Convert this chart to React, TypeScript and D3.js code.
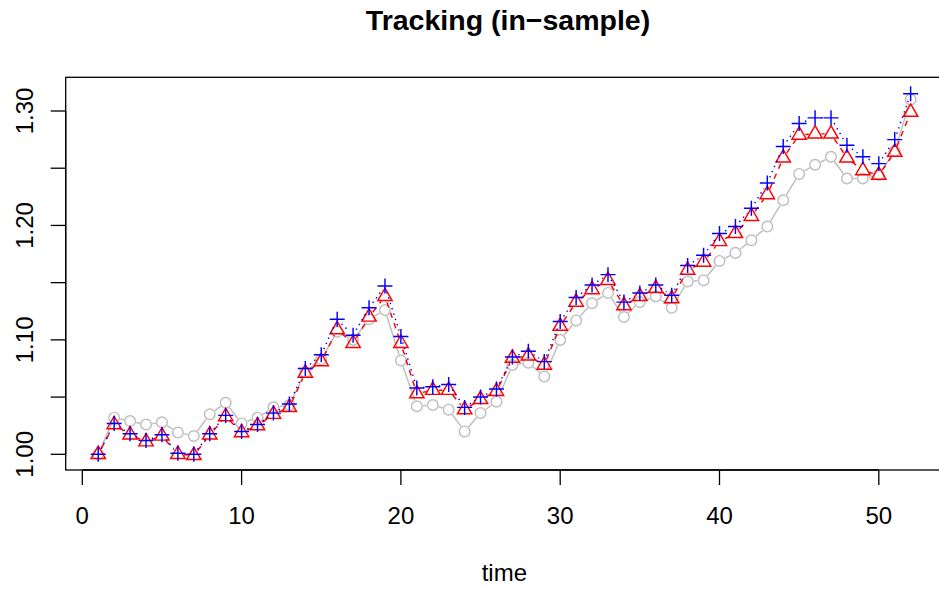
import React from "react";
import * as d3 from "d3";

const W = 939;
const H = 589;

const title = "Tracking (in\u2212sample)";
const xLabel = "time";

const xTicks = [0, 10, 20, 30, 40, 50];
const yTickMarks = [1.0, 1.05, 1.1, 1.15, 1.2, 1.25, 1.3];
const yTickLabels = ["1.00", "1.10", "1.20", "1.30"];
const yTickLabelValues = [1.0, 1.1, 1.2, 1.3];

// benchmark (grey circles, solid)
const indexSeries = [
  1.000, 1.032, 1.029, 1.026, 1.028, 1.019, 1.016, 1.035, 1.045, 1.027,
  1.032, 1.041, 1.043, 1.072, 1.083, 1.107, 1.100, 1.118, 1.126, 1.082,
  1.042, 1.043, 1.039, 1.020, 1.036, 1.046, 1.078, 1.080, 1.068, 1.100,
  1.117, 1.132, 1.141, 1.120, 1.133, 1.138, 1.128, 1.151, 1.152, 1.169,
  1.176, 1.187, 1.199, 1.222, 1.245, 1.253, 1.260, 1.241, 1.241, 1.244,
  1.265, 1.310,
];

// red triangles, dashed
const redSeries = [
  1.000, 1.026, 1.017, 1.011, 1.016, 1.000, 0.999, 1.017, 1.033, 1.019,
  1.025, 1.035, 1.041, 1.071, 1.081, 1.109, 1.097, 1.120, 1.138, 1.097,
  1.053, 1.056, 1.056, 1.039, 1.048, 1.055, 1.084, 1.086, 1.078, 1.112,
  1.133, 1.144, 1.152, 1.130, 1.138, 1.145, 1.136, 1.161, 1.168, 1.186,
  1.193, 1.208, 1.227, 1.259, 1.279, 1.280, 1.280, 1.259, 1.248, 1.244,
  1.264, 1.299,
];

// blue plus, dotted
const blueSeries = [
  1.000, 1.027, 1.018, 1.012, 1.017, 1.001, 1.000, 1.018, 1.034, 1.020,
  1.026, 1.036, 1.044, 1.075, 1.087, 1.118, 1.104, 1.128, 1.147, 1.103,
  1.058, 1.059, 1.061, 1.041, 1.050, 1.057, 1.085, 1.090, 1.081, 1.116,
  1.137, 1.148, 1.157, 1.133, 1.141, 1.148, 1.139, 1.165, 1.174, 1.193,
  1.199, 1.215, 1.237, 1.269, 1.289, 1.294, 1.294, 1.270, 1.260, 1.254,
  1.275, 1.315,
];

const box = { left: 65.7, top: 77.3, right: 943, bottom: 470 };

const x = d3.scaleLinear().domain([0, 50]).range([82.3, 878.8]);
const y = d3.scaleLinear().domain([1.0, 1.3]).range([454.3, 111]);

const FONT = "'Liberation Sans', Arial, Helvetica, sans-serif";

type Pt = [number, number];

function gappedSegments(pts: Pt[], gap: number): string {
  let d = "";
  for (let i = 0; i < pts.length - 1; i++) {
    const [x0, y0] = pts[i];
    const [x1, y1] = pts[i + 1];
    const dx = x1 - x0;
    const dy = y1 - y0;
    const len = Math.sqrt(dx * dx + dy * dy);
    if (len <= 2 * gap) continue;
    const ux = dx / len;
    const uy = dy / len;
    d += `M${x0 + ux * gap},${y0 + uy * gap}L${x1 - ux * gap},${y1 - uy * gap}`;
  }
  return d;
}

const toPts = (vals: number[]): Pt[] => vals.map((v, i) => [x(i + 1), y(v)]);

const R_CIRCLE = 5.3;
const TRC0 = 8.3;
const TRC1 = TRC0 * Math.sqrt(3) / 2;
const TRC2 = TRC0 / 2;
const PLUS = 7.5;
const GAP = 6.2;
const LW = 1.45;

export default function App() {
  const gPts = toPts(indexSeries);
  const rPts = toPts(redSeries);
  const bPts = toPts(blueSeries);

  return (
    <svg
      width={W}
      height={H}
      style={{ position: "fixed", left: 0, top: 0, background: "#fff" }}
      fontFamily={FONT}
    >
      <rect x={0} y={0} width={W} height={H} fill="#fff" />
      <defs>
        <clipPath id="plotclip">
          <rect x={box.left} y={box.top} width={box.right - box.left} height={box.bottom - box.top} />
        </clipPath>
      </defs>

      <g clipPath="url(#plotclip)">
        {/* grey series */}
        <path d={gappedSegments(gPts, GAP)} fill="none" stroke="#BEBEBE" strokeWidth={LW} />
        {gPts.map(([px, py], i) => (
          <circle key={"g" + i} cx={px} cy={py} r={R_CIRCLE} fill="none" stroke="#BEBEBE" strokeWidth={LW} />
        ))}

        {/* red series */}
        <path d={gappedSegments(rPts, GAP)} fill="none" stroke="#FF0000" strokeWidth={LW} strokeDasharray="5.5,5.5" />
        {rPts.map(([px, py], i) => (
          <path
            key={"r" + i}
            d={`M${px},${py - TRC0}L${px + TRC1},${py + TRC2}L${px - TRC1},${py + TRC2}Z`}
            fill="none"
            stroke="#FF0000"
            strokeWidth={LW}
          />
        ))}

        {/* blue series */}
        <path d={gappedSegments(bPts, GAP)} fill="none" stroke="#0000FF" strokeWidth={LW} strokeDasharray="1.4,4.2" />
        {bPts.map(([px, py], i) => (
          <path
            key={"b" + i}
            d={`M${px - PLUS},${py}L${px + PLUS},${py}M${px},${py - PLUS}L${px},${py + PLUS}`}
            fill="none"
            stroke="#0000FF"
            strokeWidth={LW}
          />
        ))}
      </g>

      {/* box */}
      <rect
        x={box.left}
        y={box.top}
        width={box.right - box.left}
        height={box.bottom - box.top}
        fill="none"
        stroke="#000"
        strokeWidth={1.3}
      />

      {/* x axis */}
      <line x1={x(xTicks[0])} x2={x(xTicks[xTicks.length - 1])} y1={box.bottom} y2={box.bottom} stroke="#000" strokeWidth={1.3} />
      {xTicks.map((t) => (
        <g key={"xt" + t}>
          <line x1={x(t)} x2={x(t)} y1={box.bottom} y2={box.bottom + 15} stroke="#000" strokeWidth={1.3} />
          <text x={x(t)} y={524} fontSize={24} textAnchor="middle" fill="#000">
            {t}
          </text>
        </g>
      ))}

      {/* y axis */}
      <line x1={box.left} x2={box.left} y1={y(yTickMarks[0])} y2={y(yTickMarks[yTickMarks.length - 1])} stroke="#000" strokeWidth={1.3} />
      {yTickMarks.map((t) => (
        <line key={"ym" + t} x1={box.left - 15} x2={box.left} y1={y(t)} y2={y(t)} stroke="#000" strokeWidth={1.3} />
      ))}
      {yTickLabelValues.map((t, i) => (
        <text
          key={"yl" + t}
          transform={`translate(33.3,${y(t)}) rotate(-90)`}
          fontSize={24}
          textAnchor="middle"
          fill="#000"
        >
          {yTickLabels[i]}
        </text>
      ))}

      {/* title and label */}
      <text x={508} y={29.5} fontSize={28.5} fontWeight="bold" textAnchor="middle" fill="#000">
        {title}
      </text>
      <text x={(box.left + box.right) / 2} y={580.7} fontSize={24} textAnchor="middle" fill="#000">
        {xLabel}
      </text>
    </svg>
  );
}
